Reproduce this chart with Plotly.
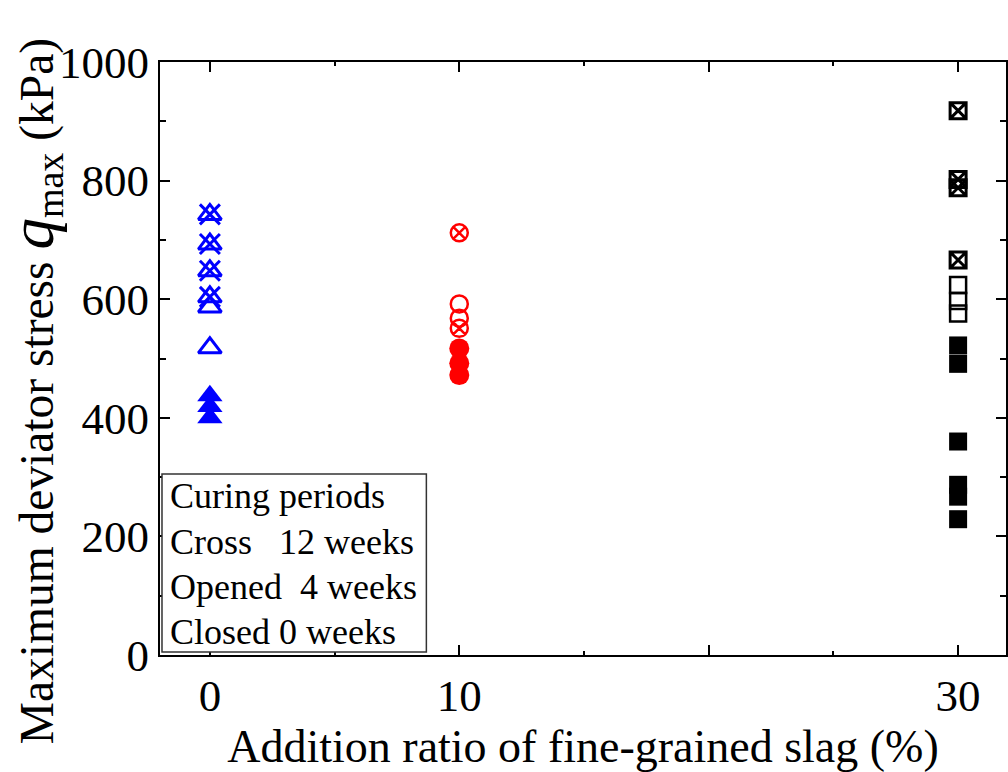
import plotly.graph_objects as go

# Addition ratio of fine-grained slag (%) for each group
slag_0 = 0
slag_10 = 10
slag_30 = 30

# Maximum deviator stress q_max (kPa), by curing period
q_0_cross = [743, 693, 648, 604]      # 12 weeks
q_0_open = [587, 518]                 # 4 weeks
q_0_closed = [437, 419, 400]          # 0 weeks

q_10_cross = [712, 551]
q_10_open = [592, 568]
q_10_closed = [517, 492, 472]

q_30_cross = [918, 802, 788, 666]
q_30_open = [624, 597, 576]
q_30_closed = [522, 491, 360, 287, 267, 229]

x_tick_vals = [0, 10, 20, 30]
x_tick_text = ["0", "10", "", "30"]
y_tick_vals = [0, 200, 400, 600, 800, 1000]

legend_lines = [
    "Curing periods",
    "Cross\u00a0\u00a0\u00a012 weeks",
    "Opened\u00a0\u00a04 weeks",
    "Closed 0 weeks",
]

BLUE = "#0000ff"
RED = "#ff0000"
BLACK = "#000000"
FONT = "Liberation Serif"

fig = go.Figure()


def add(xv, yv, symbol, color, size, lw=2.5, filled=False):
    fig.add_trace(go.Scatter(
        x=[xv] * len(yv), y=yv, mode="markers", showlegend=False,
        marker=dict(symbol=symbol, size=size, color=color,
                    line=dict(color=color, width=0 if filled else lw)),
        hoverinfo="x+y",
    ))


# 0 % slag: triangles
add(slag_0, q_0_closed, "triangle-up", BLUE, 22, filled=True)
add(slag_0, q_0_open, "triangle-up-open", BLUE, 20, lw=3)
add(slag_0, q_0_cross, "triangle-up-open", BLUE, 20, lw=3)
add(slag_0, q_0_cross, "x-thin-open", BLUE, 20, lw=3)

# 10 % slag: circles
add(slag_10, q_10_closed, "circle", RED, 20, filled=True)
add(slag_10, q_10_open, "circle-open", RED, 17, lw=2.5)
add(slag_10, q_10_cross, "circle-x-open", RED, 17, lw=2.5)

# 30 % slag: squares
add(slag_30, q_30_closed, "square", BLACK, 18, filled=True)
add(slag_30, q_30_open, "square-open", BLACK, 16, lw=2.5)
add(slag_30, q_30_cross, "square-x-open", BLACK, 16, lw=3)

fig.update_layout(
    width=1008, height=772,
    margin=dict(l=160, r=0, t=62, b=117),
    paper_bgcolor="white", plot_bgcolor="white",
    font=dict(family=FONT, color="black"),
    xaxis=dict(
        range=[-2, 31.92], tickmode="array", tickvals=x_tick_vals, ticktext=x_tick_text,
        ticks="inside", ticklen=10, tickwidth=2, tickcolor="black",
        showline=True, linewidth=2, linecolor="black", mirror="ticks",
        showgrid=False, zeroline=False,
        tickfont=dict(size=45, family=FONT),
        minor=dict(tickvals=[5, 15, 25], ticks="inside", ticklen=4, tickwidth=2,
                   tickcolor="black", showgrid=False),
        title=dict(text="Addition ratio of fine-grained slag (%)",
                   font=dict(size=46, family=FONT), standoff=10),
    ),
    yaxis=dict(
        range=[0, 1000], tickmode="array", tickvals=y_tick_vals,
        ticks="inside", ticklen=10, tickwidth=2, tickcolor="black",
        showline=True, linewidth=2, linecolor="black", mirror="ticks",
        showgrid=False, zeroline=False,
        tickfont=dict(size=45, family=FONT),
        minor=dict(dtick=100, ticks="inside", ticklen=6, tickwidth=2,
                   tickcolor="black", showgrid=False),
    ),
)

# Vertical axis title, with an enlarged italic q and subscript
fig.add_annotation(
    text="Maximum deviator stress\u00a0"
         "<span style='font-size:63px'><i>q</i></span>"
         "<sub><span style='font-size:38px'>max</span></sub>"
         "\u00a0(kPa)",
    xref="paper", yref="paper", x=(34 - 160) / 848, y=(655 - 746) / 593,
    xanchor="center", yanchor="bottom", textangle=-90, showarrow=False,
    font=dict(size=47.5, family=FONT, color="black"),
)

# Legend box describing marker styles
fig.add_shape(type="rect", xref="paper", yref="paper",
              x0=(162 - 160) / 848, x1=(427 - 160) / 848,
              y0=(655 - 652) / 593, y1=(655 - 474) / 593,
              line=dict(color="#333333", width=1.5), fillcolor="white", layer="above")

line_y = [496, 542, 587, 632]
for txt, py in zip(legend_lines, line_y):
    fig.add_annotation(text=txt, xref="paper", yref="paper",
                       x=(168 - 160) / 848, y=(655 - py) / 593,
                       xanchor="left", yanchor="middle", showarrow=False,
                       font=dict(size=36, family=FONT, color="black"))

fig.write_html("out.html")
